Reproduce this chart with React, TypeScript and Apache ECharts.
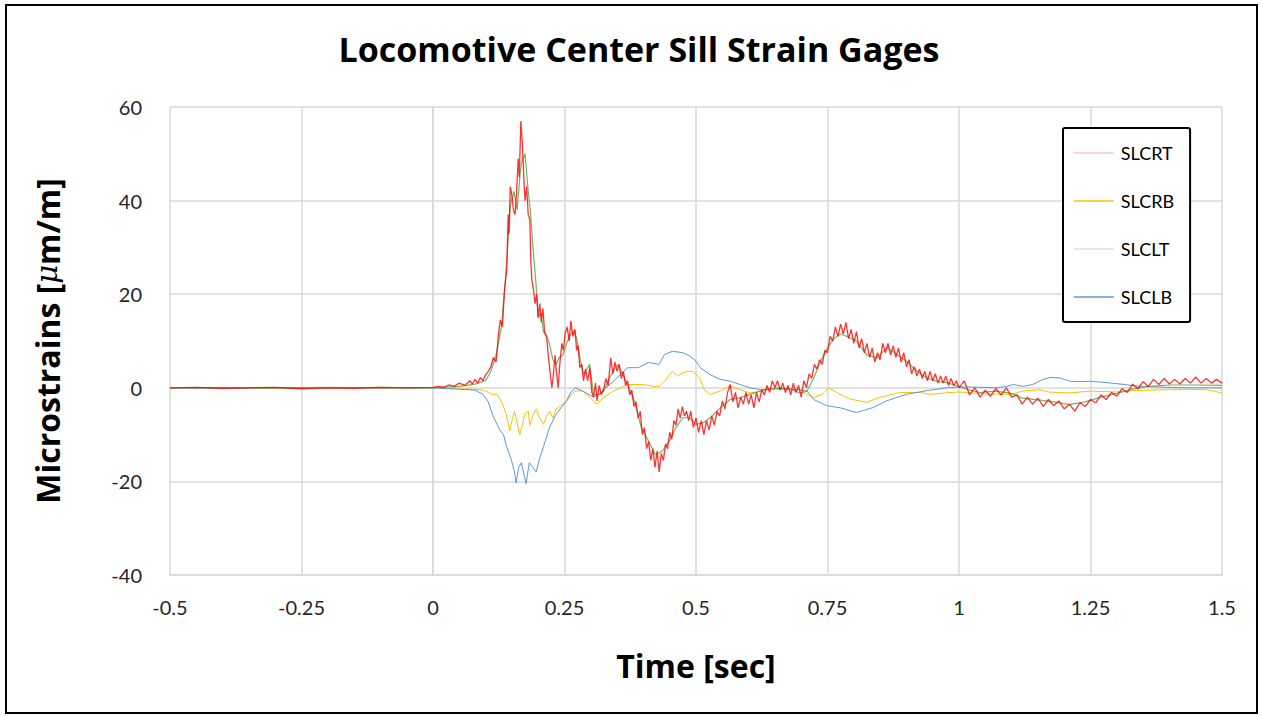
import React, { useEffect, useRef } from "react";
import * as echarts from "echarts";

const seriesNames = ["SLCRT", "SLCRB", "SLCLT", "SLCLB"];
const xTicks = [-0.5, -0.25, 0, 0.25, 0.5, 0.75, 1, 1.25, 1.5];
const yTicks = [-40, -20, 0, 20, 40, 60];

const SLCRT: [number, number][] = [
  [-0.5, 0], [-0.45, 0.1], [-0.4, -0.1], [-0.35, 0], [-0.3, 0.1], [-0.25, -0.2], [-0.2, 0], [-0.15, -0.1], [-0.1, 0.1], [-0.05, 0],
  [0, 0.1], [0.01, 0.3], [0.02, 0.1], [0.03, 0.6], [0.04, 0.3], [0.05, 1.0], [0.06, 0.5], [0.07, 1.5], [0.075, 0.8], [0.08, 1.8],
  [0.085, 1.0], [0.09, 2.2], [0.095, 1.5], [0.1, 2.8], [0.105, 3.5], [0.11, 4.5], [0.115, 6.5], [0.12, 5.5], [0.125, 12], [0.128, 14.5],
  [0.132, 13], [0.136, 21], [0.14, 25], [0.143, 37], [0.1445, 33], [0.147, 43], [0.15, 41], [0.153, 38], [0.156, 37], [0.159, 42],
  [0.162, 49], [0.164, 45], [0.167, 57], [0.17, 52], [0.173, 44], [0.175, 40], [0.178, 43], [0.181, 37], [0.184, 36], [0.186, 27],
  [0.188, 23], [0.191, 21], [0.194, 18], [0.197, 20], [0.2, 15], [0.203, 18], [0.206, 14], [0.209, 17], [0.212, 12], [0.216, 11],
  [0.219, 7], [0.222, 4], [0.226, 0], [0.229, 3], [0.232, 7], [0.235, 3], [0.238, 0], [0.241, 5], [0.245, 9.5], [0.248, 8],
  [0.251, 11.5], [0.255, 13], [0.259, 10], [0.262, 14.3], [0.266, 11], [0.27, 12.5], [0.273, 8], [0.276, 9], [0.279, 4.3], [0.283, 5],
  [0.286, 1.5], [0.29, 4], [0.294, 1.5], [0.298, 4.3], [0.302, -1], [0.305, -2], [0.309, 1], [0.312, -2.8], [0.316, 0.5], [0.32, -1.5],
  [0.325, 0], [0.329, 2], [0.333, 0.5], [0.338, 6.4], [0.342, 3], [0.346, 5.5], [0.35, 3.5], [0.354, 5], [0.358, 2], [0.362, 3.5],
  [0.366, 0.5], [0.37, 1.5], [0.374, -1.5], [0.378, -0.5], [0.382, -4], [0.386, -3], [0.39, -6.5], [0.394, -5], [0.398, -10], [0.402, -8.5],
  [0.406, -13], [0.41, -11.5], [0.414, -15.5], [0.418, -13], [0.422, -17], [0.426, -13.5], [0.43, -18], [0.434, -14], [0.438, -15.5], [0.442, -12],
  [0.446, -13], [0.45, -9.5], [0.454, -11], [0.458, -7], [0.462, -8], [0.466, -4.5], [0.47, -6.5], [0.474, -4], [0.478, -6], [0.482, -5],
  [0.486, -7], [0.49, -5], [0.495, -8.5], [0.5, -6.5], [0.505, -9.5], [0.51, -7], [0.515, -10], [0.52, -7], [0.525, -9], [0.53, -6],
  [0.535, -8], [0.54, -5], [0.545, -6], [0.55, -2.8], [0.555, -4.5], [0.56, -1], [0.565, 0.7], [0.57, -3], [0.575, -1], [0.58, -4.3],
  [0.585, -2], [0.59, -3.5], [0.595, -1], [0.6, -3.5], [0.605, -1.5], [0.61, -4.3], [0.615, -1], [0.62, -3], [0.625, -0.5], [0.63, -1.5],
  [0.635, 0.5], [0.64, -1], [0.645, 1.5], [0.65, 0], [0.655, 1.5], [0.66, -0.5], [0.665, 1], [0.67, -1], [0.675, 0.5], [0.68, -1.5],
  [0.685, 1], [0.69, -1], [0.695, 0.5], [0.7, -2], [0.705, 1.5], [0.71, 0], [0.715, 3], [0.72, 2], [0.725, 5], [0.73, 4],
  [0.735, 6], [0.74, 5], [0.745, 8], [0.75, 7.5], [0.755, 11], [0.76, 10], [0.765, 13], [0.77, 11], [0.775, 13.6], [0.78, 11.5],
  [0.785, 14], [0.79, 10.5], [0.795, 12.5], [0.8, 9.5], [0.805, 12], [0.81, 8.5], [0.815, 10.5], [0.82, 7.5], [0.825, 9.5], [0.83, 6.5],
  [0.835, 8.5], [0.84, 5.5], [0.845, 7.5], [0.85, 6], [0.855, 9.5], [0.86, 7.5], [0.865, 9.5], [0.87, 7], [0.875, 9], [0.88, 6.5],
  [0.885, 8.5], [0.89, 5.5], [0.895, 7.5], [0.9, 4.5], [0.905, 6], [0.91, 3], [0.915, 4.5], [0.92, 2.5], [0.925, 4], [0.93, 2],
  [0.935, 3.5], [0.94, 1.5], [0.945, 3.5], [0.95, 1.5], [0.955, 3], [0.96, 1], [0.965, 2.5], [0.97, 1], [0.975, 2.5], [0.98, 0.5],
  [0.985, 2], [0.99, 0.5], [0.995, 1.5], [1.0, 0], [1.01, 1.5], [1.02, -1.5], [1.03, 0], [1.04, -2], [1.05, -0.5], [1.06, -1.8],
  [1.07, -0.2], [1.08, -1.5], [1.09, 0], [1.1, -2], [1.11, -1.5], [1.12, -3.5], [1.13, -2], [1.14, -3.5], [1.15, -2.2], [1.16, -4],
  [1.17, -2.5], [1.18, -3.8], [1.19, -2.8], [1.2, -4.5], [1.21, -3.5], [1.22, -5], [1.23, -3.2], [1.24, -4], [1.25, -2.5], [1.26, -3.2],
  [1.27, -1.5], [1.28, -2.5], [1.29, -1], [1.3, -1.8], [1.31, -0.2], [1.32, -1], [1.33, 0.8], [1.34, -0.2], [1.35, 1.3], [1.36, 0.3],
  [1.37, 1.8], [1.38, 0.7], [1.39, 2], [1.4, 0.8], [1.41, 1.8], [1.42, 0.8], [1.43, 2], [1.44, 1], [1.45, 2.3], [1.46, 1],
  [1.47, 2], [1.48, 1], [1.49, 1.8], [1.5, 1],
];

const SLCRB: [number, number][] = [
  [-0.5, 0], [-0.4, 0.1], [-0.3, -0.1], [-0.2, 0], [-0.1, 0.1], [0, 0], [0.05, -0.2], [0.08, -0.3], [0.096, -0.5], [0.105, -1],
  [0.115, -1.5], [0.121, -1.3], [0.128, -2.5], [0.134, -4], [0.14, -6], [0.146, -9.2], [0.15, -7], [0.155, -5], [0.16, -7.5], [0.165, -10],
  [0.17, -8], [0.175, -5.5], [0.181, -5], [0.184, -8], [0.19, -6], [0.196, -4.5], [0.203, -6.5], [0.21, -7.8], [0.216, -6], [0.222, -5],
  [0.228, -6.5], [0.234, -4.5], [0.242, -3.8], [0.254, -3], [0.262, -1.5], [0.27, -0.7], [0.285, -0.7], [0.298, -2], [0.311, -3.5], [0.325, -2],
  [0.343, -0.7], [0.37, 0.7], [0.4, 0.7], [0.42, 0.3], [0.43, 0.3], [0.44, 1.4], [0.455, 3.5], [0.465, 2.5], [0.475, 3.2], [0.485, 3.5],
  [0.494, 3.5], [0.507, 2.1], [0.515, -0.3], [0.527, -1.4], [0.546, -0.7], [0.565, 0.4], [0.584, -0.4], [0.603, -1.1], [0.622, -0.7], [0.64, 0],
  [0.66, -0.3], [0.679, -0.3], [0.698, -0.4], [0.711, -1.4], [0.724, -2.1], [0.74, -1.4], [0.752, 0], [0.76, -0.5], [0.774, -1.4], [0.793, -2.4],
  [0.812, -2.8], [0.825, -3.1], [0.845, -2.2], [0.862, -1.7], [0.888, -1], [0.926, -1], [0.945, -1.4], [0.983, -1], [1.0, -0.9], [1.05, -1.3],
  [1.1, -1.4], [1.12, -0.7], [1.154, -0.4], [1.17, -0.9], [1.21, -1.1], [1.25, -0.7], [1.3, -0.9], [1.33, -0.6], [1.4, -0.4], [1.47, -0.4],
  [1.5, -1.1],
];

const SLCLT: [number, number][] = [
  [-0.5, 0], [-0.25, 0], [0, 0], [0.05, 0.3], [0.08, 0.8], [0.1, 1.5], [0.11, 3.5], [0.12, 7], [0.13, 13], [0.137, 22],
  [0.142, 30], [0.147, 39], [0.154, 42], [0.16, 38], [0.165, 45], [0.168, 48], [0.175, 50], [0.178, 46], [0.181, 42], [0.185, 38],
  [0.19, 30], [0.196, 22], [0.2, 15], [0.205, 16], [0.21, 12], [0.22, 10], [0.228, 6], [0.234, 5], [0.24, 6.5], [0.247, 7],
  [0.254, 9.5], [0.26, 11], [0.267, 12.2], [0.273, 10.7], [0.28, 6], [0.286, 2.8], [0.292, 4], [0.298, 5], [0.305, -1.4], [0.315, -1.5],
  [0.325, -0.7], [0.335, 2], [0.345, 4], [0.352, 5], [0.36, 3], [0.37, 0.7], [0.383, -2.8], [0.396, -8.5], [0.41, -11.4], [0.423, -14.3],
  [0.436, -13.5], [0.449, -11.4], [0.462, -8.5], [0.475, -6.4], [0.488, -6.4], [0.5, -7.8], [0.513, -7.5], [0.527, -6.4], [0.546, -4.3], [0.565, -2.5],
  [0.584, -2.1], [0.603, -1.4], [0.622, -0.7], [0.64, -0.3], [0.66, 0], [0.679, -0.3], [0.698, -1.1], [0.711, -0.7], [0.724, 2.1], [0.737, 5.7],
  [0.75, 8.5], [0.762, 10.5], [0.774, 11.5], [0.787, 11], [0.805, 10], [0.824, 7.1], [0.844, 6.4], [0.863, 8.6], [0.882, 7.1], [0.9, 5.7],
  [0.92, 3.6], [0.939, 2.1], [0.958, 1.4], [0.977, 1.1], [0.996, 0.4], [1.02, -0.5], [1.04, -1], [1.07, -0.7], [1.1, -1.2], [1.12, -2.2],
  [1.15, -2.6], [1.18, -3], [1.21, -3.6], [1.24, -3], [1.27, -2], [1.3, -1.2], [1.33, -0.3], [1.36, 0.3], [1.4, 0.6], [1.45, 0.6],
  [1.5, 0.5],
];

const SLCLB: [number, number][] = [
  [-0.5, 0], [-0.4, -0.1], [-0.3, 0], [-0.2, 0.1], [-0.1, 0], [0, 0], [0.05, -0.3], [0.08, -0.5], [0.095, -1.4], [0.105, -3],
  [0.114, -6], [0.127, -9], [0.134, -10], [0.14, -12.6], [0.149, -15.4], [0.155, -18], [0.158, -20.4], [0.163, -17], [0.168, -16], [0.172, -18],
  [0.177, -20.5], [0.183, -16], [0.19, -17], [0.196, -18], [0.203, -15], [0.21, -12.6], [0.222, -8.3], [0.235, -5.5], [0.254, -2.7], [0.262, -0.9],
  [0.27, 0], [0.285, -0.7], [0.305, -2], [0.315, -1.4], [0.343, 1.4], [0.37, 4.3], [0.39, 4.3], [0.41, 5.4], [0.43, 5], [0.44, 7.1],
  [0.455, 7.8], [0.475, 7.5], [0.488, 6.8], [0.5, 5.7], [0.508, 4.3], [0.527, 2.8], [0.546, 1.8], [0.565, 1.4], [0.584, 0.7], [0.603, 0],
  [0.622, -0.4], [0.66, -0.2], [0.698, -0.4], [0.711, -0.7], [0.724, -2.5], [0.748, -3.8], [0.775, -4.3], [0.805, -5.3], [0.837, -4.2], [0.862, -2.8],
  [0.9, -1.4], [0.939, -0.6], [0.977, 0], [1.01, 0.2], [1.07, 0], [1.09, 0.3], [1.103, 0.7], [1.122, 0.3], [1.14, 0.7], [1.16, 1.8],
  [1.173, 2.2], [1.192, 2.1], [1.211, 1.4], [1.23, 1.3], [1.25, 1.4], [1.28, 1.1], [1.316, 0.7], [1.335, 0.4], [1.37, 0.2], [1.43, 0],
  [1.5, 0],
];

const seriesData = [SLCRT, SLCRB, SLCLT, SLCLB];
const lineColors = ["rgba(255,0,0,0.8)", "#ffc000", "rgba(96,165,70,0.85)", "#5b9bd5"];
const legendColors = ["#f6c9c9", "#ffc000", "#d5e5cc", "#5b9bd5"];
const lineWidths = [1.3, 1, 1.2, 1];
const zs = [5, 2, 4, 3];

export default function App() {
  const ref = useRef<HTMLDivElement>(null);
  useEffect(() => {
    if (!ref.current) return;
    const chart = echarts.init(ref.current, undefined, { renderer: "svg" });
    const font = "Lato, 'Open Sans', sans-serif";
    const boldFont = "'Open Sans', Lato, sans-serif";
    chart.setOption({
      animation: false,
      backgroundColor: "#ffffff",
      title: {
        text: "Locomotive Center Sill Strain Gages",
        left: 634,
        top: 27,
        textAlign: "center",
        textStyle: { fontFamily: boldFont, fontSize: 34, fontWeight: "bold", color: "#000" },
      },
      graphic: [
        {
          type: "rect",
          shape: { x: 6, y: 5, width: 1251, height: 708 },
          style: { fill: "none", stroke: "#000", lineWidth: 2 },
          silent: true,
        },
      ],
      legend: {
        orient: "vertical",
        left: 1063,
        top: 128,
        padding: [16, 16, 16, 10],
        itemGap: 30,
        itemWidth: 40,
        itemHeight: 14,
        borderColor: "#000",
        borderWidth: 2,
        borderRadius: 2,
        backgroundColor: "#fff",
        textStyle: { fontFamily: font, fontSize: 18, color: "#000", padding: [0, 0, 0, 2] },
        data: seriesNames.map((n, i) => ({
          name: n,
          itemStyle: { color: "rgba(0,0,0,0)", borderWidth: 0, opacity: 0 },
          lineStyle: { color: legendColors[i], width: 1.5 },
        })),
      },
      grid: { left: 170, top: 107, width: 1052, height: 468, containLabel: false },
      xAxis: {
        type: "value",
        min: -0.5,
        max: 1.5,
        interval: 0.25,
        name: "Time [sec]",
        nameLocation: "middle",
        nameGap: 74,
        nameTextStyle: { fontFamily: boldFont, fontSize: 32, fontWeight: "bold", color: "#000" },
        axisLine: { show: true, onZero: false, lineStyle: { color: "#d9d9d9", width: 1.5 } },
        axisTick: { show: false },
        splitLine: { show: true, lineStyle: { color: "#d9d9d9", width: 1.5 } },
        axisLabel: {
          fontFamily: font,
          fontSize: 20,
          color: "#262626",
          margin: 22,
          formatter: (v: number) => (xTicks.includes(v) ? String(v) : ""),
        },
      },
      yAxis: {
        type: "value",
        min: -40,
        max: 60,
        interval: 20,
        name: "{b|Microstrains [}{m|μ}{b|m/m]}",
        nameLocation: "middle",
        nameGap: 107,
        nameTextStyle: {
          rich: {
            b: { fontFamily: boldFont, fontSize: 32, fontWeight: "bold", color: "#000" },
            m: { fontFamily: "'DejaVu Serif', serif", fontSize: 29, fontStyle: "italic", color: "#000" },
          },
        },
        axisLine: { show: true, lineStyle: { color: "#d9d9d9", width: 1.5 } },
        axisTick: { show: false },
        splitLine: { show: true, lineStyle: { color: "#d9d9d9", width: 1.5 } },
        axisLabel: {
          fontFamily: font,
          fontSize: 20,
          color: "#262626",
          margin: 28,
          formatter: (v: number) => (yTicks.includes(v) ? String(v) : ""),
        },
      },
      series: seriesNames.map((n, i) => ({
        name: n,
        type: "line",
        data: seriesData[i],
        showSymbol: false,
        symbol: "none",
        z: zs[i],
        lineStyle: { color: lineColors[i], width: lineWidths[i] },
        itemStyle: { color: lineColors[i] },
      })),
    });
    return () => chart.dispose();
  }, []);
  return (
    <div
      ref={ref}
      style={{ position: "fixed", left: 0, top: 0, width: 1263, height: 716, background: "#fff" }}
    />
  );
}
